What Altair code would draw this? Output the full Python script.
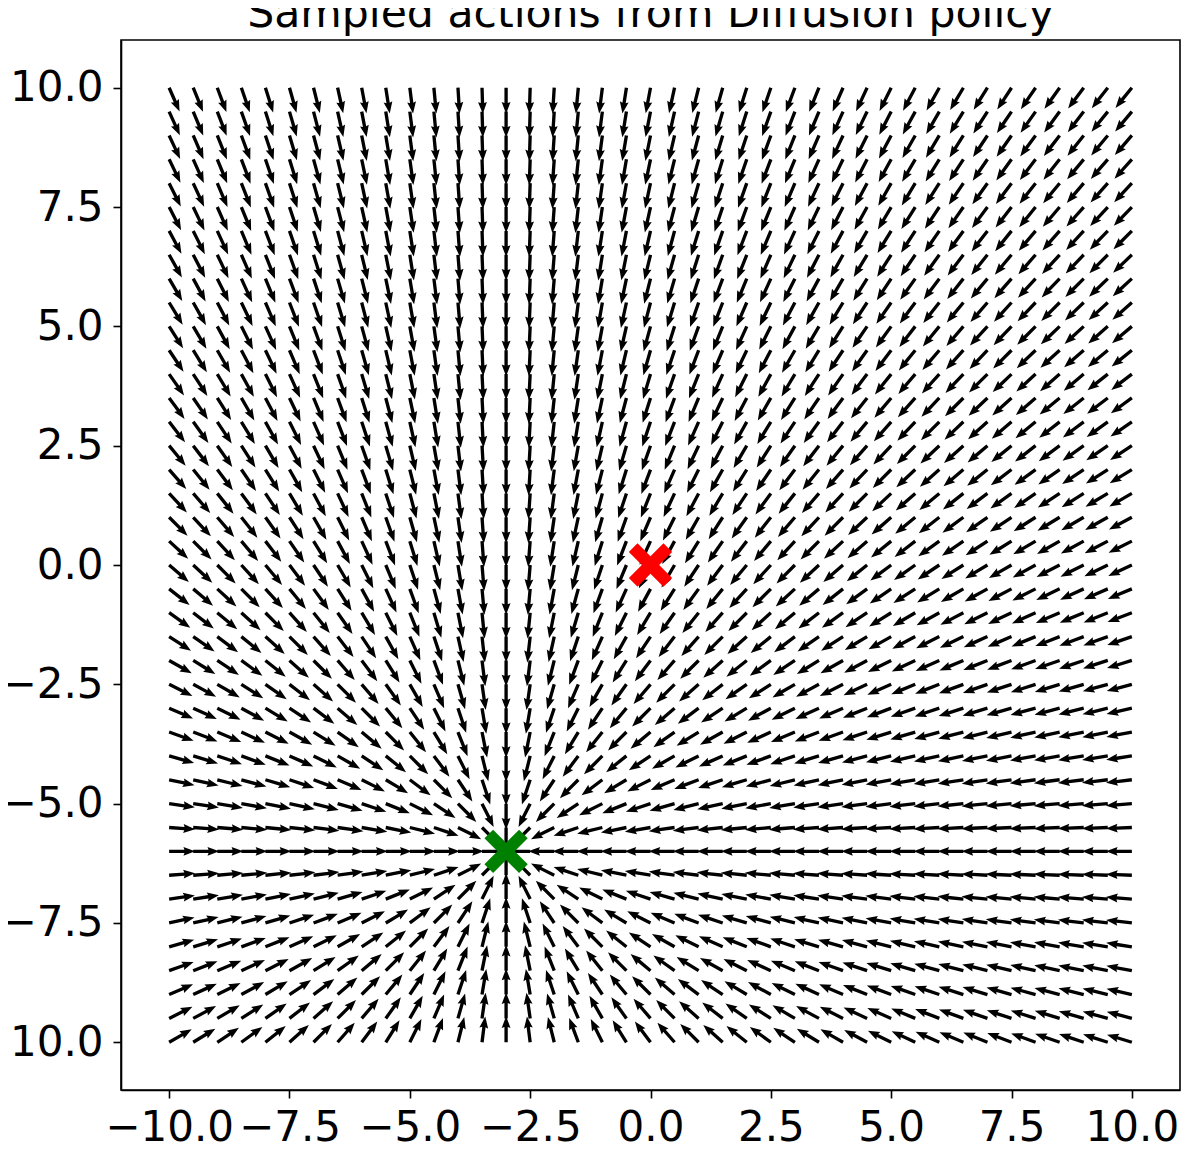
import math
import altair as alt
import pandas as pd

# grid positions of the sampled states (both axes)
grid_values = [-10.0, -9.5, -9.0, -8.5, -8.0, -7.5, -7.0, -6.5, -6.0, -5.5,
               -5.0, -4.5, -4.0, -3.5, -3.0, -2.5, -2.0, -1.5, -1.0, -0.5,
               0.0, 0.5, 1.0, 1.5, 2.0, 2.5, 3.0, 3.5, 4.0, 4.5,
               5.0, 5.5, 6.0, 6.5, 7.0, 7.5, 8.0, 8.5, 9.0, 9.5, 10.0]

# start (red) and goal (green) markers
marker_x = [0.0, -3.0]
marker_y = [0.0, -6.0]
marker_color = ["#ff0000", "#008000"]
goal_x, goal_y = -3.0, -6.0

tick_values = [-10.0, -7.5, -5.0, -2.5, 0.0, 2.5, 5.0, 7.5, 10.0]
title_text = ["Sampled actions from Diffusion policy"]

# sampled actions: unit vectors pointing toward the goal
rows = []
for gx in grid_values:
    for gy in grid_values:
        dx = goal_x - gx
        dy = goal_y - gy
        if dx == 0 and dy == 0:
            continue
        ang = math.degrees(math.atan2(-dy, dx)) % 360.0
        rows.append({"x": gx, "y": gy, "angle": ang})
arrows = pd.DataFrame(rows)
markers = pd.DataFrame({"x": marker_x, "y": marker_y, "color": marker_color})
titles = pd.DataFrame({"t": title_text})

# arrow shape: tail at origin, tip at (1, 0)
hs = 0.064   # half shaft width
hw = 0.17    # half head width
hl = 0.45    # head length
ha = 0.41    # head axis length
arrow_path = (f"M0,{-hs} L{1-ha},{-hs} L{1-hl},{-hw} L1,0 "
              f"L{1-hl},{hw} L{1-ha},{hs} L0,{hs} Z")
L = 26
arrow_size = (2 * L) ** 2

a = 0.25
plus_path = (f"M-1,{-a} L{-a},{-a} L{-a},-1 L{a},-1 L{a},{-a} L1,{-a} "
             f"L1,{a} L{a},{a} L{a},1 L{-a},1 L{-a},{a} L-1,{a} Z")
R = 24.5
plus_size = (2 * R) ** 2

axis_common = dict(
    values=tick_values, format=".1f", title=None, grid=False,
    labelFont="DejaVu Sans", labelFontSize=42, labelColor="black",
    tickSize=8, tickWidth=1.6, tickColor="black",
    domainColor="black", domainWidth=1.6,
)

xscale = alt.Scale(domain=[-11, 11], nice=False, zero=False)
yscale = alt.Scale(domain=[-11, 11], nice=False, zero=False)

arrow_layer = alt.Chart(arrows).mark_point(
    shape=arrow_path, filled=True, color="black", opacity=1, size=arrow_size,
    strokeWidth=0,
).encode(
    x=alt.X("x:Q", scale=xscale, axis=alt.Axis(labelPadding=9, **axis_common)),
    y=alt.Y("y:Q", scale=yscale, axis=alt.Axis(labelPadding=10, **axis_common)),
    angle=alt.Angle("angle:Q", scale=None),
)

marker_layer = alt.Chart(markers).mark_point(
    shape=plus_path, filled=True, opacity=1, size=plus_size, angle=45,
    strokeWidth=0,
).encode(
    x=alt.X("x:Q", scale=xscale),
    y=alt.Y("y:Q", scale=yscale),
    color=alt.Color("color:N", scale=None),
)

title_layer = alt.Chart(titles).mark_text(
    font="DejaVu Sans", fontSize=42.6, color="black", align="center",
    baseline="alphabetic",
).encode(
    x=alt.value(529.5),
    y=alt.value(-13),
    text="t:N",
)

chart = alt.layer(arrow_layer, marker_layer, title_layer).properties(
    width=1059,
    height=1050,
    autosize=alt.AutoSizeParams(type="none"),
    padding={"left": 113, "top": 32, "right": 8, "bottom": 60},
).configure_view(stroke="black", strokeWidth=1.6)

chart.save("out.html", embed_options={"renderer": "svg", "actions": False})
